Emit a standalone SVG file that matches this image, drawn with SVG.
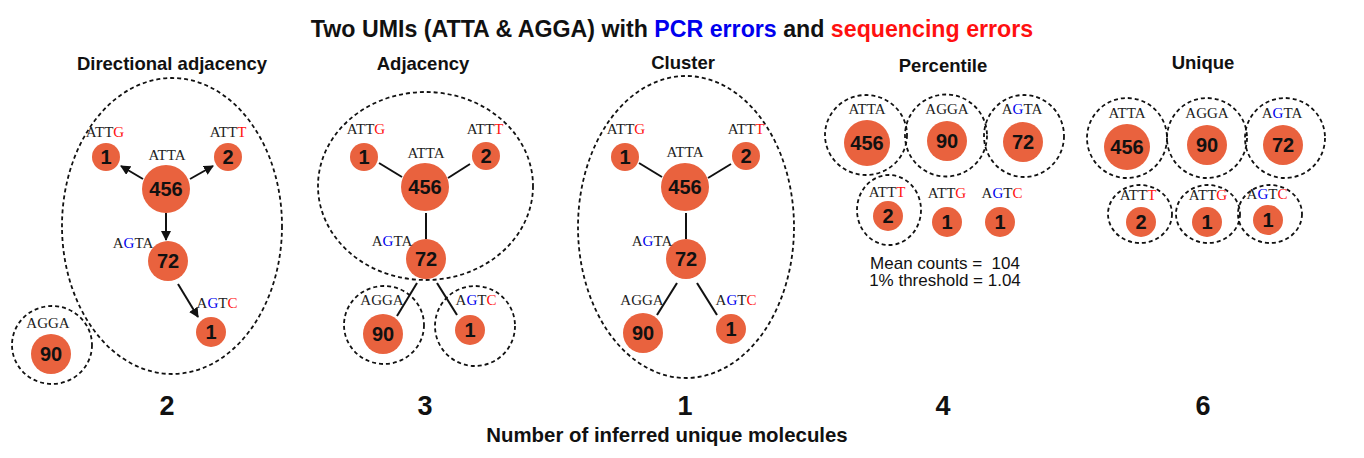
<svg xmlns="http://www.w3.org/2000/svg" width="1364" height="458" viewBox="0 0 1364 458">
<defs>
<style>
.bg{fill:#ffffff}
.n{fill:#e9623e}
.num{font-family:"Liberation Sans",Arial,sans-serif;font-weight:bold;font-size:20px;fill:#111;text-anchor:middle}
.lab{font-family:"Liberation Serif","Times New Roman",serif;font-size:15px;fill:#222;text-anchor:middle}
.b{fill:#0000ee}
.r{fill:#ff1010}
.dash{fill:none;stroke:#111;stroke-width:1.8;stroke-dasharray:4 3}
.edge{stroke:#111;stroke-width:2;fill:none}
.arr{stroke:#111;stroke-width:2;fill:none;marker-end:url(#ah)}
.sec{font-family:"Liberation Sans",Arial,sans-serif;font-weight:bold;font-size:18.5px;fill:#111;text-anchor:middle}
.title{font-family:"Liberation Sans",Arial,sans-serif;font-weight:bold;font-size:23.2px;fill:#111;text-anchor:middle}
.cnt{font-family:"Liberation Sans",Arial,sans-serif;font-weight:bold;font-size:27px;fill:#111;text-anchor:middle}
.axis{font-family:"Liberation Sans",Arial,sans-serif;font-weight:bold;font-size:20.4px;fill:#111;text-anchor:middle}
.stat{font-family:"Liberation Sans",Arial,sans-serif;font-size:17px;fill:#111;text-anchor:middle}
</style>
<marker id="ah" viewBox="0 0 10 10" refX="9" refY="5" markerWidth="5" markerHeight="5" orient="auto" markerUnits="strokeWidth">
<path d="M0,0 L10,5 L0,10 z" fill="#111"/>
</marker>
</defs>
<rect class="bg" x="0" y="0" width="1364" height="458"/>

<text class="title" x="672" y="37">Two UMIs (ATTA &amp; AGGA) with <tspan class="b">PCR errors</tspan> and <tspan class="r">sequencing errors</tspan></text>

<g id="titles">
<text class="sec" x="172" y="70">Directional adjacency</text>
<text class="sec" x="423" y="70">Adjacency</text>
<text class="sec" x="683" y="69">Cluster</text>
<text class="sec" x="943" y="72">Percentile</text>
<text class="sec" x="1203" y="69">Unique</text>
</g>

<g id="connectors">
<line class="arr" x1="143" y1="179" x2="121" y2="166"/>
<line class="arr" x1="190" y1="179" x2="213" y2="166"/>
<line class="arr" x1="166" y1="213" x2="166" y2="240"/>
<line class="arr" x1="178" y1="284" x2="198" y2="317"/>

<line class="edge" x1="379" y1="163" x2="402" y2="177"/>
<line class="edge" x1="470" y1="164" x2="448" y2="178"/>
<line class="edge" x1="426" y1="213" x2="426" y2="239"/>
<line class="edge" x1="417" y1="283" x2="397" y2="316"/>
<line class="edge" x1="437" y1="283" x2="457" y2="315"/>

<line class="edge" x1="639" y1="163" x2="662" y2="177"/>
<line class="edge" x1="731" y1="164" x2="708" y2="178"/>
<line class="edge" x1="686" y1="213" x2="686" y2="239"/>
<line class="edge" x1="677" y1="283" x2="657" y2="315"/>
<line class="edge" x1="697" y1="283" x2="717" y2="315"/>
</g>

<g id="groups">
<ellipse class="dash" cx="172" cy="226" rx="110" ry="148"/>
<ellipse class="dash" cx="52" cy="345" rx="40" ry="39"/>
<ellipse class="dash" cx="425.5" cy="186" rx="107.5" ry="94"/>
<ellipse class="dash" cx="384" cy="325" rx="40" ry="39"/>
<ellipse class="dash" cx="475" cy="326" rx="40" ry="40"/>
<ellipse class="dash" cx="686" cy="227" rx="108" ry="151"/>
<ellipse class="dash" cx="866" cy="135" rx="41" ry="40"/>
<ellipse class="dash" cx="946" cy="135.5" rx="41" ry="41"/>
<ellipse class="dash" cx="1024" cy="136" rx="40" ry="41"/>
<ellipse class="dash" cx="889" cy="210" rx="32" ry="35"/>
<ellipse class="dash" cx="1127" cy="138" rx="40" ry="40"/>
<ellipse class="dash" cx="1207" cy="138" rx="40" ry="40"/>
<ellipse class="dash" cx="1285" cy="138" rx="40" ry="40"/>
<ellipse class="dash" cx="1140" cy="214" rx="32" ry="29"/>
<ellipse class="dash" cx="1208" cy="214" rx="32" ry="29"/>
<ellipse class="dash" cx="1270" cy="214" rx="32" ry="29"/>
</g>

<!-- Directional adjacency -->
<g id="da-atta"><circle class="n" cx="166" cy="189" r="24"/><text class="num" x="166" y="196">456</text><text class="lab" x="167" y="160">ATTA</text></g>
<g id="da-attg"><circle class="n" cx="106" cy="157" r="14"/><text class="num" x="106" y="164">1</text><text class="lab" x="105" y="137">ATT<tspan class="r">G</tspan></text></g>
<g id="da-attt"><circle class="n" cx="228" cy="157" r="14"/><text class="num" x="228" y="164">2</text><text class="lab" x="228" y="137">ATT<tspan class="r">T</tspan></text></g>
<g id="da-agta"><circle class="n" cx="168" cy="261" r="20"/><text class="num" x="168" y="268">72</text><text class="lab" x="133" y="248">A<tspan class="b">G</tspan>TA</text></g>
<g id="da-agtc"><circle class="n" cx="211" cy="332" r="15"/><text class="num" x="211" y="339">1</text><text class="lab" x="217" y="308">A<tspan class="b">G</tspan>T<tspan class="r">C</tspan></text></g>
<g id="da-agga"><circle class="n" cx="51" cy="354" r="20"/><text class="num" x="51" y="361">90</text><text class="lab" x="48" y="328">AGGA</text></g>

<!-- Adjacency -->
<g id="ad-atta"><circle class="n" cx="425" cy="187" r="24"/><text class="num" x="425" y="194">456</text><text class="lab" x="426" y="158">ATTA</text></g>
<g id="ad-attg"><circle class="n" cx="364" cy="157" r="14"/><text class="num" x="364" y="164">1</text><text class="lab" x="366" y="134">ATT<tspan class="r">G</tspan></text></g>
<g id="ad-attt"><circle class="n" cx="486" cy="156" r="14"/><text class="num" x="486" y="163">2</text><text class="lab" x="485" y="134">ATT<tspan class="r">T</tspan></text></g>
<g id="ad-agta"><circle class="n" cx="426" cy="259" r="20"/><text class="num" x="426" y="266">72</text><text class="lab" x="392" y="246">A<tspan class="b">G</tspan>TA</text></g>
<g id="ad-agga"><circle class="n" cx="383" cy="334" r="20"/><text class="num" x="383" y="341">90</text><text class="lab" x="382" y="305">AGGA</text></g>
<g id="ad-agtc"><circle class="n" cx="470" cy="330" r="15"/><text class="num" x="470" y="337">1</text><text class="lab" x="476" y="305">A<tspan class="b">G</tspan>T<tspan class="r">C</tspan></text></g>

<!-- Cluster -->
<g id="cl-atta"><circle class="n" cx="685" cy="187" r="24"/><text class="num" x="685" y="194">456</text><text class="lab" x="685" y="157">ATTA</text></g>
<g id="cl-attg"><circle class="n" cx="625" cy="157" r="14"/><text class="num" x="625" y="164">1</text><text class="lab" x="626" y="134">ATT<tspan class="r">G</tspan></text></g>
<g id="cl-attt"><circle class="n" cx="746" cy="156" r="14"/><text class="num" x="746" y="163">2</text><text class="lab" x="746" y="134">ATT<tspan class="r">T</tspan></text></g>
<g id="cl-agta"><circle class="n" cx="686" cy="259" r="20"/><text class="num" x="686" y="266">72</text><text class="lab" x="652" y="246">A<tspan class="b">G</tspan>TA</text></g>
<g id="cl-agga"><circle class="n" cx="643" cy="333" r="20"/><text class="num" x="643" y="340">90</text><text class="lab" x="642" y="305">AGGA</text></g>
<g id="cl-agtc"><circle class="n" cx="731" cy="329" r="15"/><text class="num" x="731" y="336">1</text><text class="lab" x="736" y="305">A<tspan class="b">G</tspan>T<tspan class="r">C</tspan></text></g>

<!-- Percentile -->
<g id="pc-atta"><circle class="n" cx="867" cy="143" r="23"/><text class="num" x="867" y="150">456</text><text class="lab" x="867" y="114">ATTA</text></g>
<g id="pc-agga"><circle class="n" cx="947" cy="141" r="20"/><text class="num" x="947" y="148">90</text><text class="lab" x="947" y="114">AGGA</text></g>
<g id="pc-agta"><circle class="n" cx="1023" cy="142" r="20"/><text class="num" x="1023" y="149">72</text><text class="lab" x="1022" y="114">A<tspan class="b">G</tspan>TA</text></g>
<g id="pc-attt"><circle class="n" cx="888" cy="216" r="15"/><text class="num" x="888" y="223">2</text><text class="lab" x="887" y="197">ATT<tspan class="r">T</tspan></text></g>
<g id="pc-attg"><circle class="n" cx="947" cy="222" r="15"/><text class="num" x="947" y="229">1</text><text class="lab" x="947" y="198">ATT<tspan class="r">G</tspan></text></g>
<g id="pc-agtc"><circle class="n" cx="1000" cy="222" r="15"/><text class="num" x="1000" y="229">1</text><text class="lab" x="1002" y="198">A<tspan class="b">G</tspan>T<tspan class="r">C</tspan></text></g>
<g id="pc-stats">
<text class="stat" x="945" y="269" xml:space="preserve">Mean counts =  104</text>
<text class="stat" x="945" y="286">1% threshold = 1.04</text>
</g>

<!-- Unique -->
<g id="un-atta"><circle class="n" cx="1127" cy="147" r="23"/><text class="num" x="1127" y="154">456</text><text class="lab" x="1127" y="118">ATTA</text></g>
<g id="un-agga"><circle class="n" cx="1207" cy="145" r="20"/><text class="num" x="1207" y="152">90</text><text class="lab" x="1207" y="118">AGGA</text></g>
<g id="un-agta"><circle class="n" cx="1283" cy="145" r="20"/><text class="num" x="1283" y="152">72</text><text class="lab" x="1282" y="118">A<tspan class="b">G</tspan>TA</text></g>
<g id="un-attt"><circle class="n" cx="1141" cy="222" r="15"/><text class="num" x="1141" y="229">2</text><text class="lab" x="1138" y="200">ATT<tspan class="r">T</tspan></text></g>
<g id="un-attg"><circle class="n" cx="1207" cy="222" r="15"/><text class="num" x="1207" y="229">1</text><text class="lab" x="1208" y="200">ATT<tspan class="r">G</tspan></text></g>
<g id="un-agtc"><circle class="n" cx="1268" cy="220" r="15"/><text class="num" x="1268" y="227">1</text><text class="lab" x="1267" y="199">A<tspan class="b">G</tspan>T<tspan class="r">C</tspan></text></g>

<g id="counts">
<text class="cnt" x="167" y="415">2</text>
<text class="cnt" x="425" y="415">3</text>
<text class="cnt" x="685" y="415">1</text>
<text class="cnt" x="943" y="415">4</text>
<text class="cnt" x="1203" y="415">6</text>
<text class="axis" x="667" y="442">Number of inferred unique molecules</text>
</g>
</svg>
